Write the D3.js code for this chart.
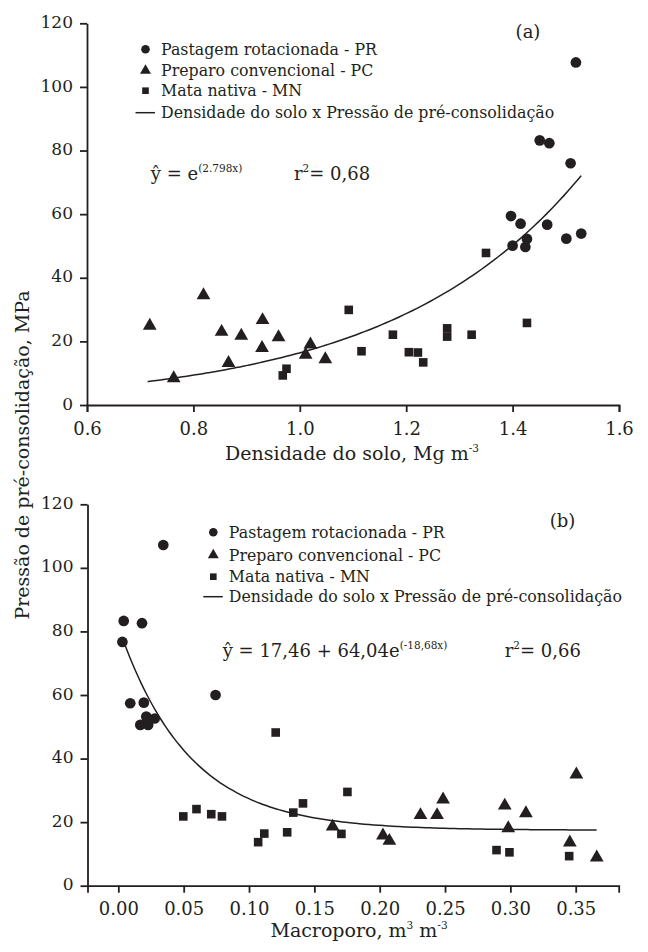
<!DOCTYPE html>
<html><head><meta charset="utf-8">
<script src="https://cdn.jsdelivr.net/npm/d3@7"></script>
<style>
body{margin:0;background:#fff}
svg{display:block}
text{font-family:"DejaVu Serif",serif;fill:#231f20}
</style>
</head><body>
<svg id="c" width="648" height="952"></svg>
<script>
// ---------- DATA ----------
// Panel (a): soil density (Mg m-3) vs pre-consolidation pressure
const prA = [[1.519,107.7],[1.451,83.2],[1.469,82.3],[1.509,76.0],[1.397,59.4],[1.415,57.0],[1.465,56.7],[1.400,50.1],[1.427,52.2],[1.424,49.7],[1.501,52.3],[1.529,53.9]];
const pcA = [[0.718,24.9],[0.763,8.4],[0.819,34.5],[0.853,23.0],[0.866,13.2],[0.890,21.8],[0.930,26.7],[0.929,17.9],[0.960,21.3],[1.011,15.8],[1.020,19.0],[1.048,14.4]];
const mnA = [[0.968,9.3],[0.975,11.4],[1.092,29.9],[1.116,16.9],[1.175,22.1],[1.205,16.6],[1.222,16.5],[1.232,13.4],[1.277,24.1],[1.277,21.5],[1.323,22.1],[1.350,47.8],[1.427,25.8]];
// Panel (b): macroporosity (m3 m-3) vs pre-consolidation pressure
const prB = [[0.0344,107.2],[0.0041,83.3],[0.0181,82.6],[0.0031,76.7],[0.0091,57.4],[0.0195,57.6],[0.0744,60.0],[0.0214,53.2],[0.0278,52.6],[0.0168,50.6],[0.0228,50.6]];
const pcB = [[0.164,18.6],[0.2025,15.8],[0.2074,14.1],[0.2312,22.2],[0.2439,22.2],[0.2485,27.1],[0.2957,25.2],[0.2984,18.1],[0.3119,22.8],[0.3505,35.0],[0.3455,13.6],[0.3661,8.9]];
const mnB = [[0.1204,48.2],[0.0497,21.8],[0.0598,24.1],[0.0711,22.5],[0.0793,21.8],[0.107,13.7],[0.1117,16.4],[0.1292,16.8],[0.1339,23.0],[0.1413,25.9],[0.1707,16.3],[0.1753,29.5],[0.2894,11.2],[0.2993,10.5],[0.345,9.3]];
// fitted curves (from the equations printed on the chart)
const fitA = {a:2.798, from:0.714, to:1.529};
const fitB = {c:17.46, k:64.04, b:-18.68, from:0.003, to:0.366};
// ticks & labels
const xTicksA = [0.6,0.8,1.0,1.2,1.4,1.6];
const xTicksB = [0,0.05,0.10,0.15,0.20,0.25,0.30,0.35];
const yTicks = [0,20,40,60,80,100,120];
const legendLabels = ["Pastagem rotacionada - PR","Preparo convencional - PC","Mata nativa - MN","Densidade do solo x Pressão de pré-consolidação"];

// ---------- DRAW ----------
const svg = d3.select("#c");
const INK = "#231f20";

function panel(o){
  const g = svg.append("g");
  const x = d3.scaleLinear().domain(o.xDomain).range([o.left,o.right]);
  const y = d3.scaleLinear().domain([0,120]).range([o.bottom,o.top]);

  const ax = g.append("g").attr("transform",`translate(0,${o.bottom})`)
    .call(d3.axisBottom(x).tickValues(o.xTicks).tickFormat(d3.format(o.fmt)).tickSizeInner(7).tickSizeOuter(7).tickPadding(10));
  const ay = g.append("g").attr("transform",`translate(${o.left},0)`)
    .call(d3.axisLeft(y).tickValues(yTicks).tickFormat(d3.format("d")).tickSizeInner(7).tickSizeOuter(0).tickPadding(7));
  [ax,ay].forEach(a=>{
    a.selectAll("path,line").attr("stroke",INK).attr("stroke-width",1.8);
    a.selectAll("text").attr("fill",INK).style("font-family","DejaVu Serif");
  });
  ax.selectAll("text").attr("font-size",18);
  ay.selectAll("text").attr("font-size",17).attr("dy","0.24em");

  const xs = d3.range(0,101).map(i=>o.fit.from+(o.fit.to-o.fit.from)*i/100);
  g.append("path").datum(xs)
    .attr("d",d3.line().x(d=>x(d)).y(d=>y(o.f(d))).curve(d3.curveBasis))
    .attr("fill","none").attr("stroke",INK).attr("stroke-width",1.5);

  const sym = (type,size)=>d3.symbol().type(type).size(size)();
  const series = [[o.pr,d3.symbolCircle,90],[o.pc,d3.symbolTriangle,82],[o.mn,d3.symbolSquare,74]];
  series.forEach(([data,type,size])=>{
    g.selectAll(null).data(data).enter().append("path")
      .attr("d",sym(type,size))
      .attr("transform",d=>`translate(${x(d[0])},${y(d[1])})`)
      .attr("fill",INK);
  });

  const lg = g.append("g");
  const lsyms = [[d3.symbolCircle,58],[d3.symbolTriangle,52],[d3.symbolSquare,44]];
  legendLabels.forEach((lab,i)=>{
    const cy = o.legY[i];
    if(i<3){
      lg.append("path").attr("d",sym(lsyms[i][0],lsyms[i][1]))
        .attr("transform",`translate(${o.legX},${cy})`).attr("fill",INK);
    } else {
      lg.append("line").attr("x1",o.legX-10).attr("x2",o.legX+9.5).attr("y1",cy).attr("y2",cy)
        .attr("stroke",INK).attr("stroke-width",1.5);
    }
    lg.append("text").attr("x",o.legX+15.5).attr("y",cy+5.6).attr("font-size",15.8).text(lab);
  });

  g.append("text").attr("x",o.tag[0]).attr("y",o.tag[1]).attr("text-anchor","middle").attr("font-size",18).text(o.tagText);

  const eq = g.append("text").attr("x",o.eq[0]).attr("y",o.eq[1]).attr("font-size",18);
  o.eqParts.forEach(p=>{
    if(p.sup){ eq.append("tspan").attr("font-size",10.5).attr("dy",-8).text(p.t); }
    else { eq.append("tspan").attr("dy",p.back?8:0).text(p.t); }
  });
  const r2 = g.append("text").attr("x",o.r2[0]).attr("y",o.eq[1]).attr("font-size",18);
  r2.append("tspan").text("r");
  r2.append("tspan").attr("font-size",10.5).attr("dy",-8).text("2");
  r2.append("tspan").attr("dy",8).text("= "+o.r2Text);

  const xt = g.append("text").attr("x",o.xTitle[0]).attr("y",o.xTitle[1]).attr("text-anchor","middle").attr("font-size",19);
  o.xTitleParts.forEach(p=>{
    if(p.sup){ xt.append("tspan").attr("font-size",10.5).attr("dy",-8).text(p.t); }
    else { xt.append("tspan").attr("dy",p.back?8:0).text(p.t); }
  });
  return {x,y};
}

panel({
  xDomain:[0.6,1.6], left:87, right:619, top:23.3, bottom:405,
  xTicks:xTicksA, fmt:".1f",
  pr:prA, pc:pcA, mn:mnA,
  fit:fitA, f:x=>Math.exp(fitA.a*x),
  legX:145.5, legY:[49.3,70.7,90.7,112.7],
  tag:[528,38], tagText:"(a)",
  eq:[150.8,179.5], eqParts:[{t:"ŷ = e"},{t:"(2.798x)",sup:true}],
  r2:[294], r2Text:"0,68",
  xTitle:[352,459.5], xTitleParts:[{t:"Densidade do solo, Mg m"},{t:"-3",sup:true}]
});

panel({
  xDomain:[-0.0236,0.3829], left:87.5, right:618.7, top:504.3, bottom:885.7,
  xTicks:xTicksB, fmt:".2f",
  pr:prB, pc:pcB, mn:mnB,
  fit:fitB, f:x=>fitB.c+fitB.k*Math.exp(fitB.b*x),
  legX:213.3, legY:[532.3,555,576.7,596.7],
  tag:[562.6,526.5], tagText:"(b)",
  eq:[222.7,656.5], eqParts:[{t:"ŷ = 17,46 + 64,04e"},{t:"(-18,68x)",sup:true}],
  r2:[504.7], r2Text:"0,66",
  xTitle:[359,936.5], xTitleParts:[{t:"Macroporo, m"},{t:"3",sup:true},{t:" m",back:true},{t:"-3",sup:true}]
});

svg.append("text").attr("transform","translate(28.6,455) rotate(-90)")
  .attr("text-anchor","middle").attr("font-size",19).text("Pressão de pré-consolidação, MPa");
</script>
</body></html>
